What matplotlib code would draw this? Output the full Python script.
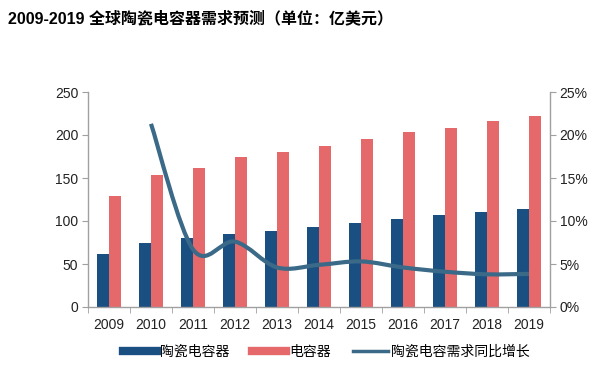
import matplotlib
matplotlib.use("Agg")
import matplotlib.pyplot as plt
import numpy as np
from matplotlib.path import Path
from matplotlib.patches import PathPatch
from matplotlib.lines import Line2D

plt.rcParams['font.family'] = ['Liberation Sans', 'Noto Sans CJK SC', 'DejaVu Sans']

years = ['2009', '2010', '2011', '2012', '2013', '2014', '2015', '2016', '2017', '2018', '2019']
ceramic = [62, 74, 80, 84.5, 88.5, 93, 98, 102, 107, 111, 114.5]
capacitor = [129.5, 153, 162, 174, 180, 187.5, 195, 204, 208.5, 216, 222]
growth_years = ['2010', '2011', '2012', '2013', '2014', '2015', '2016', '2017', '2018', '2019']
growth = [21.3, 6.7, 7.6, 4.6, 4.9, 5.3, 4.6, 4.1, 3.8, 3.85]

C_BLUE = '#1a4f82'
C_RED = '#e5696b'
C_LINE = '#3a6a87'
C_AX = '#a0a0a0'

fig = plt.figure(figsize=(5.92, 3.69), dpi=100)
ax = fig.add_axes([88/592, 1-307/369, (550-88)/592, (307-92)/369])
ax2 = ax.twinx()

x = np.arange(len(years))
w = 0.29
ax.bar(x - w/2, ceramic, width=w, color=C_BLUE, zorder=2)
ax.bar(x + w/2, capacitor, width=w, color=C_RED, zorder=2)

ax.set_xlim(-0.5, len(years) - 0.5)
ax.set_ylim(0, 250)
ax.set_yticks(range(0, 251, 50))
ax2.set_ylim(0, 25)
ax2.set_yticks(range(0, 26, 5))
ax2.set_yticklabels([f'{v}%' for v in range(0, 26, 5)])

# smooth line (Catmull-Rom style Bezier through the data points)
gx = np.array([years.index(y) for y in growth_years], dtype=float)
gy = np.array(growth, dtype=float)
verts = [(gx[0], gy[0])]
codes = [Path.MOVETO]
n = len(gx)
for i in range(n - 1):
    p0 = (gx[i-1], gy[i-1]) if i > 0 else (gx[i], gy[i])
    p1 = (gx[i], gy[i])
    p2 = (gx[i+1], gy[i+1])
    p3 = (gx[i+2], gy[i+2]) if i + 2 < n else (gx[i+1], gy[i+1])
    c1 = (p1[0] + (p2[0] - p0[0]) / 6, p1[1] + (p2[1] - p0[1]) / 6)
    c2 = (p2[0] - (p3[0] - p1[0]) / 6, p2[1] - (p3[1] - p1[1]) / 6)
    verts += [c1, c2, p2]
    codes += [Path.CURVE4] * 3
path = Path(verts, codes)
ax2.add_patch(PathPatch(path, facecolor='none', edgecolor=C_LINE, lw=3, capstyle='butt', zorder=3))

for a in (ax, ax2):
    a.spines['top'].set_visible(False)
    for s in a.spines.values():
        s.set_color(C_AX)
        s.set_linewidth(1)
ax.spines['right'].set_visible(False)
ax2.spines['left'].set_visible(False)
ax2.spines['bottom'].set_visible(False)

ax.set_xticks(x)
ax.set_xticklabels(years)
ax.set_xticks(np.arange(-0.5, len(years), 1), minor=True)
ax.tick_params(axis='x', which='major', length=0, labelsize=10, pad=8, colors='#222222')
ax.tick_params(axis='x', which='minor', length=4, color=C_AX, direction='out')
ax.tick_params(axis='y', length=4, color=C_AX, labelsize=10, labelcolor='#222222', pad=3)
ax2.tick_params(axis='y', length=4, color=C_AX, labelsize=10, labelcolor='#222222', pad=3)
ax.set_zorder(1)
ax2.set_zorder(2)
ax.patch.set_visible(False)

fig.text(8/592, 1-18/369, '2009-2019 全球陶瓷电容器需求预测（单位：亿美元）',
         fontsize=11.5, fontweight='bold', va='center', ha='left',
         family=['Liberation Sans', 'Noto Sans CJK SC'])

handles = [
    Line2D([0], [0], color=C_BLUE, lw=6),
    Line2D([0], [0], color=C_RED, lw=6),
    Line2D([0], [0], color=C_LINE, lw=2.5),
]
labels = ['陶瓷电容器', '电容器', '陶瓷电容需求同比增长']
fig.legend(handles, labels, loc='center', bbox_to_anchor=(326/592, 1-352/369), ncol=3,
           frameon=False, handlelength=2.5, handletextpad=0.2, columnspacing=1.6,
           prop={'family': ['Noto Sans CJK SC', 'DejaVu Sans'], 'size': 10})

fig.savefig('out.png', dpi=100)
